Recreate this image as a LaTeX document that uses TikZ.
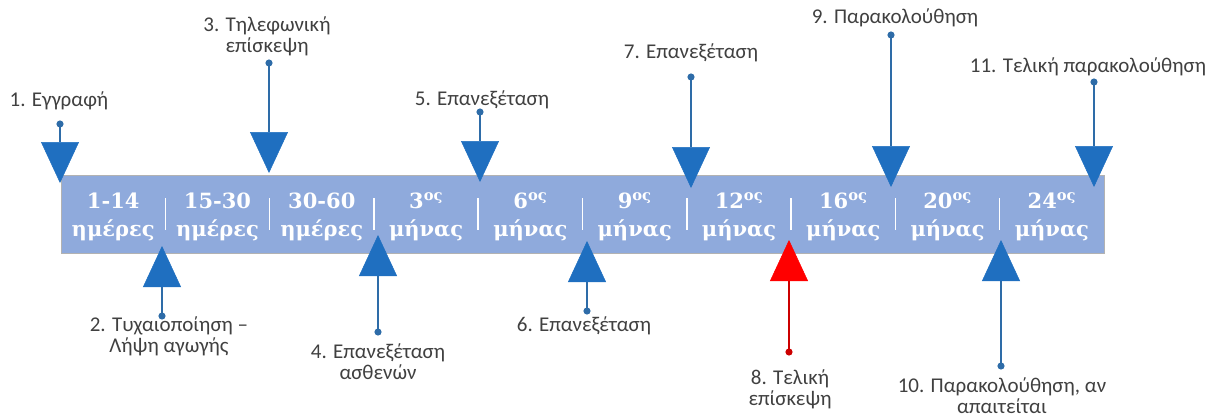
\documentclass[tikz,border=0pt]{standalone}
\usepackage{fontspec}
\setmainfont{Carlito}
\newfontfamily\periodfont{DejaVu Serif}
\usepackage{tikz}
\usetikzlibrary{arrows.meta,positioning}
\definecolor{barblue}{HTML}{8FAADC}
\definecolor{triblue}{HTML}{1F6FC0}
\definecolor{stemblue}{HTML}{2E6CA8}
\definecolor{lblgray}{HTML}{404040}
\tikzset{
  timebar/.style={draw=gray!60,fill=barblue,minimum width=1043pt,minimum height=78pt,inner sep=0pt},
  period/.style={text=white,font=\periodfont\bfseries\fontsize{21}{28}\selectfont,inner sep=0pt,anchor=base},
  sep/.style={white,line width=1.5pt},
  evt/.style={line width=1.8pt,stemblue,
    {Circle[length=7pt]}-{Triangle[width=38pt,length=41pt,color=triblue,fill=triblue,line width=0.5pt]}},
  finalevt/.style={line width=1.8pt,red!80!black,
    {Circle[length=7pt]}-{Triangle[width=38pt,length=41pt,color=red,fill=red,line width=0.5pt]}},
  lbl/.style={text=lblgray,font=\fontsize{21}{21}\selectfont,align=center,inner sep=0pt}
}

\begin{document}
\begin{tikzpicture}[x=1pt,y=-1pt]
  \useasboundingbox (0,0) rectangle (1219,418);
  % time axis
  \node[timebar] (bar) at (582.5,214) {};
  \foreach \i/\lineA/\lineB in {0/1-14/ημέρες,1/15-30/ημέρες,2/30-60/ημέρες,
      3/{3\textsuperscript{ος}}/μήνας,4/{6\textsuperscript{ος}}/μήνας,
      5/{9\textsuperscript{ος}}/μήνας,6/{12\textsuperscript{ος}}/μήνας,
      7/{16\textsuperscript{ος}}/μήνας,8/{20\textsuperscript{ος}}/μήνας,
      9/{24\textsuperscript{ος}}/μήνας} {
    \node[period] (p\i) at ({113.2+104.3*\i},208) {\lineA};
    \node[period] (q\i) at ({113.2+104.3*\i},236) {\lineB};
  }
  \foreach \i in {1,...,9}
    \draw[sep] ({61+104.3*\i},198) -- ({61+104.3*\i},230);
  % visits above the axis
  \foreach \n/\x/\yd/\yt in {1/60/120.5/183,3/269/59.5/173,5/480/108.5/182,
      7/691/73.5/188,9/891/31.5/187,11/1094/78.5/187} {
    \coordinate (d\n) at (\x,\yd);
    \coordinate (t\n) at (\x,\yt);
    \draw[evt] (d\n) -- (t\n);
  }
  % visits below the axis
  \foreach \n/\x/\yd/\yt in {2/162/319.5/246,4/378/335.5/235,6/587/314.5/241,
      10/1001/369.5/240} {
    \coordinate (d\n) at (\x,\yd);
    \coordinate (t\n) at (\x,\yt);
    \draw[evt] (d\n) -- (t\n);
  }
  % final visit (red)
  \coordinate (d8) at (789,355.5);
  \coordinate (t8) at (789,240);
  \draw[finalevt] (d8) -- (t8);
  % labels
  \node[lbl,anchor=south] (l1) at (59,110) {1. Εγγραφή};
  \node[lbl,anchor=south] (l3) at (267,56) {3. Τηλεφωνική\\επίσκεψη};
  \node[lbl,anchor=south] (l5) at (482,109) {5. Επανεξέταση};
  \node[lbl,anchor=south] (l7) at (691,62) {7. Επανεξέταση};
  \node[lbl,anchor=south] (l9) at (895,27) {9. Παρακολούθηση};
  \node[lbl,anchor=south] (l11) at (1088,76) {11. Τελική παρακολούθηση};
  \node[lbl,anchor=north] (l2) at (169,317) {2. Τυχαιοποίηση –\\Λήψη αγωγής};
  \node[lbl,anchor=north] (l4) at (378,344) {4. Επανεξέταση\\ασθενών};
  \node[lbl,anchor=north] (l6) at (584,317) {6. Επανεξέταση};
  \node[lbl,anchor=north] (l8) at (790,370) {8. Τελική\\επίσκεψη};
  \node[lbl,anchor=north] (l10) at (1002,378) {10. Παρακολούθηση, αν\\απαιτείται};
\end{tikzpicture}
\end{document}
